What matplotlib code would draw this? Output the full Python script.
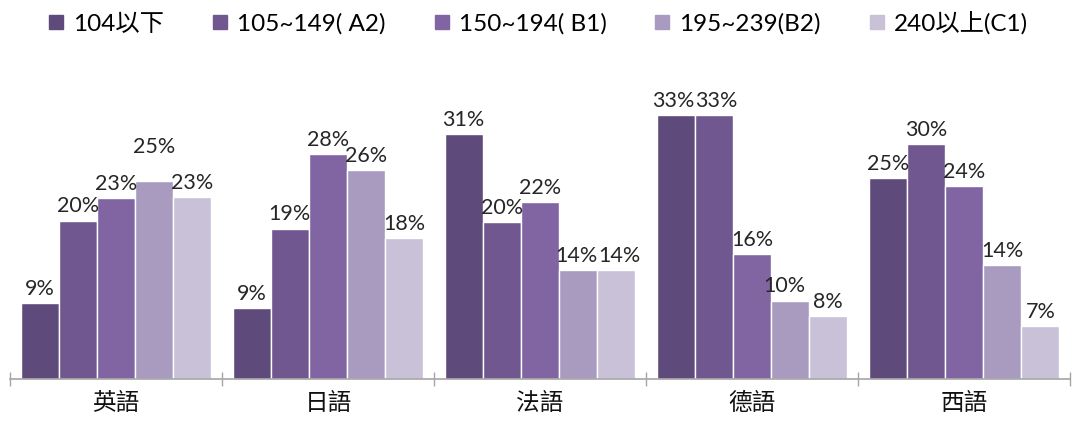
import numpy as np
import matplotlib
matplotlib.use("Agg")
from matplotlib import pyplot as plt
from matplotlib.lines import Line2D

plt.rcParams['font.family'] = ['Lato', 'Noto Sans CJK TC', 'DejaVu Sans']

languages = ['英語', '日語', '法語', '德語', '西語']
levels = ['104以下', '105~149( A2)', '150~194( B1)', '195~239(B2)', '240以上(C1)']
colors = ['#5f4b7b', '#705790', '#8065a2', '#a99bbf', '#c9c1d8']

# bar heights (%), labels are the rounded values
eng = [9.5, 19.8, 22.6, 24.8, 22.7]
jpn = [8.9, 18.8, 28.1, 26.1, 17.6]
fre = [30.6, 19.6, 22.1, 13.6, 13.6]
ger = [33.0, 33.0, 15.6, 9.8, 7.9]
spa = [25.1, 29.4, 24.1, 14.2, 6.6]
labels_eng = ['9%', '20%', '23%', '25%', '23%']
labels_jpn = ['9%', '19%', '28%', '26%', '18%']
labels_fre = ['31%', '20%', '22%', '14%', '14%']
labels_ger = ['33%', '33%', '16%', '10%', '8%']
labels_spa = ['25%', '30%', '24%', '14%', '7%']

values = np.array([eng, jpn, fre, ger, spa])
labels = [labels_eng, labels_jpn, labels_fre, labels_ger, labels_spa]

fig = plt.figure(figsize=(10.76, 4.21), dpi=100)
ax = fig.add_axes([10 / 1076, 42 / 421, 1060 / 1076, 300 / 421])

x = np.arange(len(languages))
w = 0.18
# small label nudges (points) to keep labels from overlapping
nudge = {(0, 3): (0, 14), (3, 3): (-4, 0), (2, 3): (-1, 0), (2, 4): (2, 0),
         (3, 0): (-2, 0), (3, 1): (2, 0)}
for j in range(len(levels)):
    pos = x + (j - 2) * w
    ax.bar(pos, values[:, j], w, color=colors[j], edgecolor='white', linewidth=1)
    for i in range(len(languages)):
        dx, dy = nudge.get((i, j), (0, 0))
        ax.annotate(labels[i][j], (pos[i], values[i, j]), xytext=(dx, 3 + dy),
                    textcoords='offset points', ha='center', va='bottom',
                    fontsize=15.5, color='#262626')

ax.set_xlim(-0.5, 4.5)
ax.set_ylim(0, 37.5)
for s in ['top', 'right', 'left']:
    ax.spines[s].set_visible(False)
ax.spines['bottom'].set_color('#a6a6a6')
ax.spines['bottom'].set_linewidth(1.2)
ax.set_yticks([])
ax.set_xticks(x)
ax.set_xticklabels(languages, fontsize=17, color='#111111')
ax.tick_params(axis='x', which='major', length=0, pad=9)
ax.set_xticks(np.arange(-0.5, 5, 1), minor=True)
ax.tick_params(axis='x', which='minor', direction='inout', length=10,
               color='#a6a6a6', width=1)

handles = [Line2D([], [], marker='s', linestyle='none', markersize=10.5,
                  color=c) for c in colors]
fig.legend(handles, levels, loc='upper center', bbox_to_anchor=(0.5, 1.025),
           ncol=5, frameon=False, fontsize=17.5, handlelength=0.7,
           handletextpad=0.35, columnspacing=1.95)

fig.savefig('out.png', dpi=100)
